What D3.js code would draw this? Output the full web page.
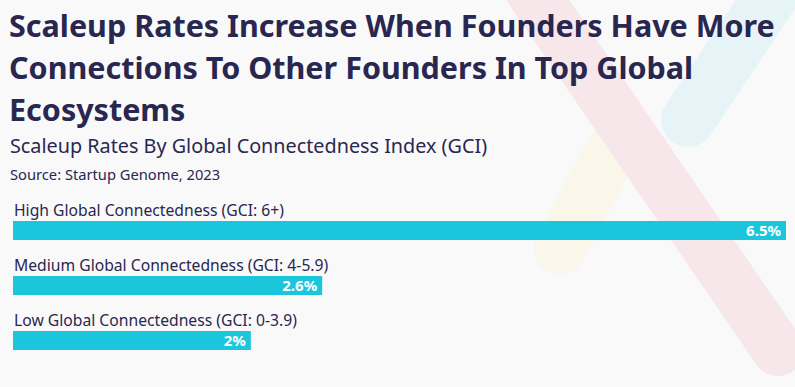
<!DOCTYPE html>
<html>
<head>
<meta charset="utf-8">
<script src="https://cdn.jsdelivr.net/npm/d3@7"></script>
<style>
  html, body { margin: 0; padding: 0; background: #f9f9fa; }
  svg { display: block; }
  text { font-family: "Source Sans Pro", "Noto Sans", sans-serif; }
</style>
</head>
<body>
<svg id="chart" width="795" height="387"></svg>
<script>
const titleLines = [
  "Scaleup Rates Increase When Founders Have More",
  "Connections To Other Founders In Top Global",
  "Ecosystems"
];
const subtitle = "Scaleup Rates By Global Connectedness Index (GCI)";
const source = "Source: Startup Genome, 2023";

const categories = [
  "High Global Connectedness (GCI: 6+)",
  "Medium Global Connectedness (GCI: 4-5.9)",
  "Low Global Connectedness (GCI: 0-3.9)"
];
const values = [6.5, 2.6, 2];

const width = 795;
const height = 387;
const svg = d3.select("#chart");

svg.append("rect").attr("width", width).attr("height", height).attr("fill", "#f9f9fa");

// faint background logo bands
const deco = svg.append("g").attr("stroke-linecap", "round").attr("fill", "none");
deco.append("line").attr("x1", 785).attr("y1", -25).attr("x2", 688).attr("y2", 120)
  .attr("stroke", "#e6f3f7").attr("stroke-width", 54);
deco.append("line").attr("x1", 612).attr("y1", 150).attr("x2", 560).attr("y2", 248)
  .attr("stroke", "#fbf6ea").attr("stroke-width", 52);
deco.append("line").attr("x1", 524).attr("y1", -20).attr("x2", 778).attr("y2", 350)
  .attr("stroke", "#f7e6ea").attr("stroke-width", 52);

// titles
const title = svg.append("text")
  .attr("fill", "#29274f")
  .attr("font-weight", 700)
  .attr("font-size", 30.5);
title.selectAll("tspan")
  .data(titleLines)
  .join("tspan")
  .attr("x", 9)
  .attr("y", (d, i) => 37 + i * 42)
  .text(d => d);

svg.append("text")
  .attr("x", 10).attr("y", 153)
  .attr("fill", "#29274f")
  .attr("font-size", 19.8)
  .text(subtitle);

svg.append("text")
  .attr("x", 10).attr("y", 180)
  .attr("fill", "#29274f")
  .attr("font-size", 14.7)
  .text(source);

// bars
const x = d3.scaleLinear().domain([0, 6.5]).range([13, 786]);
const y = d3.scalePoint().domain(categories).range([221, 331]);
const barH = 19;

const rows = svg.append("g").selectAll("g")
  .data(categories)
  .join("g");

rows.append("text")
  .attr("x", 14)
  .attr("y", d => y(d) - 5)
  .attr("fill", "#29274f")
  .attr("font-size", 15.7)
  .text(d => d);

rows.append("rect")
  .attr("x", x(0))
  .attr("y", d => y(d))
  .attr("width", (d, i) => x(values[i]) - x(0))
  .attr("height", barH)
  .attr("fill", "#1bc6dc");

rows.append("text")
  .attr("x", (d, i) => x(values[i]) - 5)
  .attr("y", d => y(d) + 15)
  .attr("text-anchor", "end")
  .attr("fill", "#ffffff")
  .attr("font-weight", 700)
  .attr("font-size", 15)
  .text((d, i) => values[i] + "%");
</script>
</body>
</html>
